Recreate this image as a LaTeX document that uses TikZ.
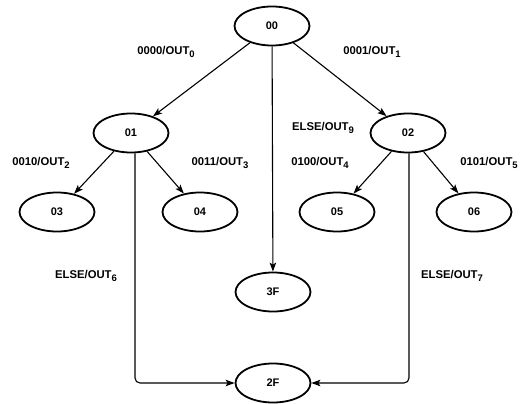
\documentclass[tikz,border=0pt]{standalone}
\usepackage{fontspec}
\setmainfont{Liberation Sans}
\usetikzlibrary{arrows.meta,shapes.geometric}
\newcommand\lowd[1]{\raisebox{-2.8pt}{\fontsize{9.5}{10}\selectfont #1}}
\begin{document}
\begin{tikzpicture}[x=1pt,y=-1pt,
  state/.style={draw,line width=1.8pt,ellipse,minimum width=75pt,minimum height=39pt,inner sep=0pt,font=\bfseries\fontsize{11}{13}\selectfont},
  lbl/.style={font=\bfseries\fontsize{11.3}{13}\selectfont,inner sep=0pt},
  arr/.style={line width=1.1pt,-{Stealth[length=9pt,width=6.5pt,inset=2pt]}},
  elbow/.style={line width=1.1pt,rounded corners=5pt,-{Stealth[length=9pt,width=6.5pt,inset=2pt]}}]
\useasboundingbox (0,0) rectangle (528,404);
\node[state] (s00) at (272,26) {00};
\node[state] (s01) at (131,133) {01};
\node[state] (s02) at (408,133) {02};
\node[state] (s03) at (57,212) {03};
\node[state] (s04) at (200,212) {04};
\node[state] (s05) at (337,212) {05};
\node[state] (s06) at (474,212) {06};
\node[state] (s3F) at (273,292) {3F};
\node[state] (s2F) at (273,383) {2F};
\draw[arr] (s00) -- (s01);
\draw[arr] (s00) -- (s02);
\draw[arr] (s00) -- (s3F);
\draw[arr] (s01) -- (s03);
\draw[arr] (s01) -- (s04);
\draw[arr] (s02) -- (s05);
\draw[arr] (s02) -- (s06);
\draw[elbow] (s01.south -| 135,0) |- (s2F.west);
\draw[elbow] (s02.south -| 409,0) |- (s2F.east);
\node[lbl] (l0) at (166,52) {0000/OUT\lowd{0}};
\node[lbl] (l1) at (372,52) {0001/OUT\lowd{1}};
\node[lbl] (l9) at (323,128) {ELSE/OUT\lowd{9}};
\node[lbl] (l2) at (41,163) {0010/OUT\lowd{2}};
\node[lbl] (l3) at (220,163) {0011/OUT\lowd{3}};
\node[lbl] (l4) at (320,163) {0100/OUT\lowd{4}};
\node[lbl] (l5) at (489,163) {0101/OUT\lowd{5}};
\node[lbl] (l6) at (86,276) {ELSE/OUT\lowd{6}};
\node[lbl] (l7) at (452,276) {ELSE/OUT\lowd{7}};
\end{tikzpicture}
\end{document}
